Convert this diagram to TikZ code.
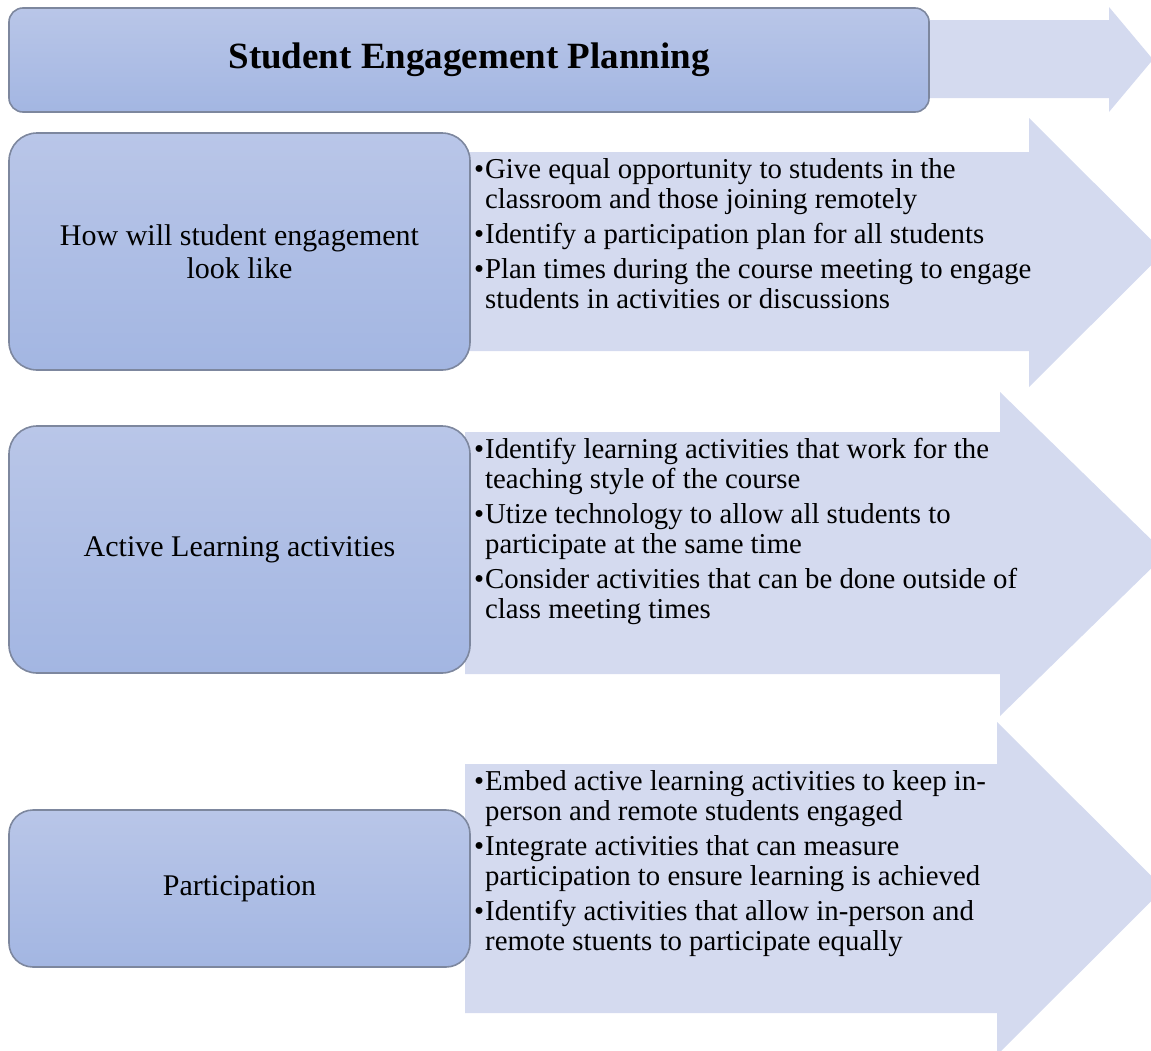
\documentclass[tikz,border=0pt]{standalone}
\usepackage{fontspec}
\setmainfont{Liberation Serif}

\definecolor{boxtop}{HTML}{B9C6E8}
\definecolor{boxbot}{HTML}{A3B6E2}
\definecolor{boxline}{HTML}{7D879E}
\definecolor{arrowfill}{HTML}{D4DAEF}

\newcommand{\bitem}{\makebox[11pt][l]{\textbullet}}
\newcommand{\bcont}{\hspace*{11pt}}

\begin{document}
\begin{tikzpicture}[x=1pt, y=-1pt,
    every node/.style={inner sep=0pt, align=center},
    topic/.style={draw=boxline, line width=1.6pt, top color=boxtop, bottom color=boxbot,
        rounded corners=28pt, minimum width=461pt, font=\fontsize{30}{33}\selectfont},
    heading/.style={topic, rounded corners=14pt, minimum width=920pt, minimum height=104pt,
        font=\fontsize{37}{40}\selectfont\bfseries},
    points/.style={anchor=north west, align=left, font=\fontsize{28.8}{30}\selectfont},
    bigarrow/.style={fill=arrowfill, draw=none}]

\useasboundingbox (0,0) rectangle (1151,1050);
\clip (0,0) rectangle (1151,1050);

% big arrows behind the boxes
\fill[bigarrow] (925,20) -- (1109,20) -- (1109,7) -- (1153,59.5) -- (1109,112) -- (1109,98) -- (925,98) -- cycle;
\fill[bigarrow] (465,152) -- (1029,152) -- (1029,118) -- (1164,252.5) -- (1029,387) -- (1029,351) -- (465,351) -- cycle;
\fill[bigarrow] (465,432) -- (1000,432) -- (1000,392) -- (1166,554) -- (1000,716) -- (1000,674) -- (465,674) -- cycle;
\fill[bigarrow] (465,764) -- (997,764) -- (997,722) -- (1164,888.5) -- (997,1055) -- (997,1013) -- (465,1013) -- cycle;

% title box
\node[heading] (title) at (469,60) {Student Engagement Planning};

% topic boxes
\node[topic, minimum height=237pt] (how) at (239.5,251.5) {How will student engagement\\look like};
\node[topic, minimum height=247pt] (active) at (239.5,549.5) {Active Learning activities};
\node[topic, minimum height=157pt, rounded corners=24pt] (part) at (239.5,888.5) {Participation};

% points in the arrows
\node[points] (howpts) at (474,158.5) {%
\bitem Give equal opportunity to students in the\\
\bcont classroom and those joining remotely\\[5pt]
\bitem Identify a participation plan for all students\\[5pt]
\bitem Plan times during the course meeting to engage\\
\bcont students in activities or discussions};

\node[points] (activepts) at (474,438.5) {%
\bitem Identify learning activities that work for the\\
\bcont teaching style of the course\\[5pt]
\bitem Utize technology to allow all students to\\
\bcont participate at the same time\\[5pt]
\bitem Consider activities that can be done outside of\\
\bcont class meeting times};

\node[points] (partpts) at (474,770.5) {%
\bitem Embed active learning activities to keep in-\\
\bcont person and remote students engaged\\[5pt]
\bitem Integrate activities that can measure\\
\bcont participation to ensure learning is achieved\\[5pt]
\bitem Identify activities that allow in-person and\\
\bcont remote stuents to participate equally};

\end{tikzpicture}
\end{document}
